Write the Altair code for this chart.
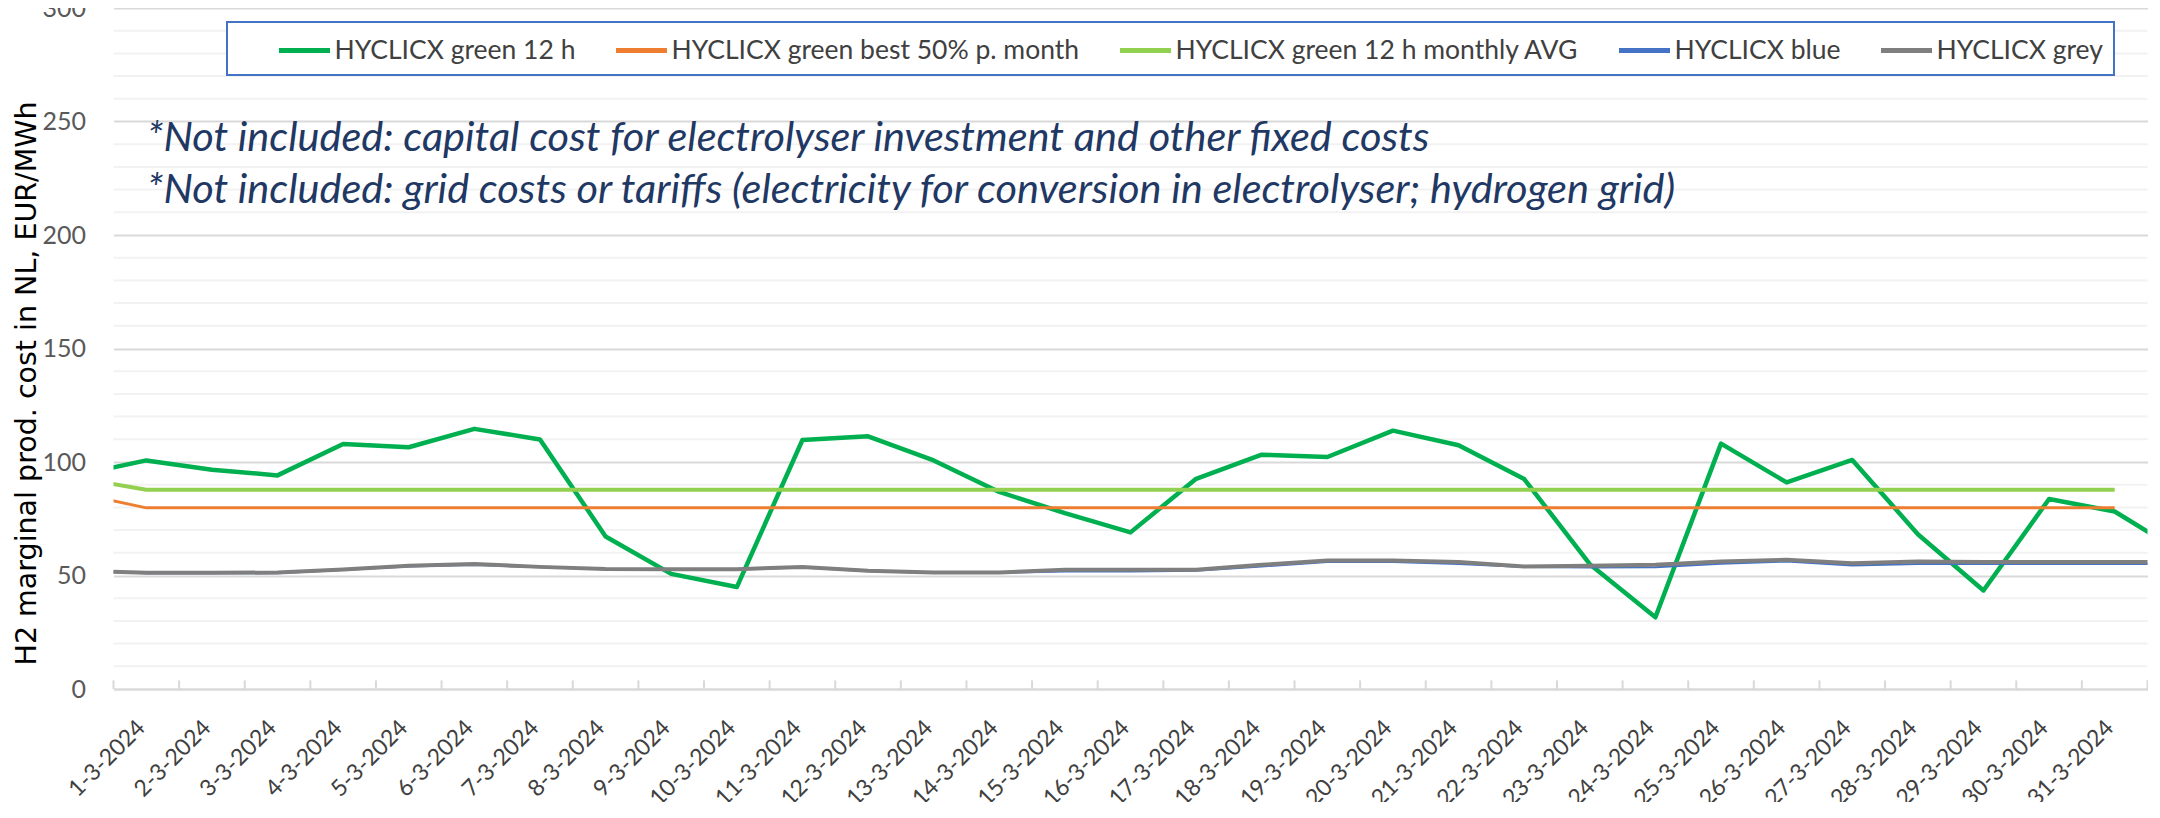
import json
import altair as alt
import pandas as pd

# ---------------- data ----------------
# day index: 0 = 29-2-2024 (just before the axis), 1..31 = March, 32 = 1-4-2024
days = list(range(0, 33))
day_labels = [f"{d}-3-2024" for d in range(1, 32)]

series_names = [
    "HYCLICX green 12 h",
    "HYCLICX green best 50% p. month",
    "HYCLICX green 12 h monthly AVG",
    "HYCLICX blue",
    "HYCLICX grey",
]
series_colors = ["#00B050", "#ED7D31", "#92D050", "#4472C4", "#7F7F7F"]

green_12h = [94.5, 100.7, 96.6, 94.1, 107.9, 106.5, 114.6, 109.9, 67.2, 50.7, 44.9,
             109.7, 111.3, 100.7, 86.8, 77.5, 69.0, 92.6, 103.2, 102.2, 113.8,
             107.4, 92.5, 55.0, 31.6, 108.1, 91.0, 100.9, 68.2, 43.4, 83.7, 78.2, 60.6]
green_best50 = [86.0] + [79.8] * 31 + [None]
green_avg = [92.8] + [87.8] * 31 + [None]
blue = [51.8, 51.0, 51.0, 51.0, 52.4, 54.0, 54.6, 53.6, 52.8, 52.7, 52.7, 53.5, 51.9,
        51.1, 51.1, 51.8, 51.8, 52.1, 54.0, 55.9, 55.9, 55.1, 53.7, 53.5, 53.6, 55.2,
        56.2, 54.4, 55.1, 55.1, 55.1, 55.1, 55.1]
grey = [52.0, 51.2, 51.2, 51.3, 52.6, 54.3, 55.1, 53.8, 52.9, 52.8, 52.8, 53.7, 52.1,
        51.3, 51.3, 52.5, 52.5, 52.5, 54.7, 56.6, 56.6, 56.0, 54.0, 54.3, 54.7, 56.2,
        56.9, 55.4, 56.2, 55.9, 55.9, 55.9, 55.9]

notes = [
    "*Not included: capital cost for electrolyser investment and other fixed costs",
    "*Not included: grid costs or tariffs (electricity for conversion in electrolyser; hydrogen grid)",
]
y_title = "H2 marginal  prod. cost  in NL, EUR/MWh"
y_major = [0, 50, 100, 150, 200, 250, 300]
y_minor = [v for v in range(10, 300, 10) if v % 50 != 0]
tick_bounds = [d + 0.5 for d in range(0, 32)]

all_values = [green_12h, green_best50, green_avg, blue, grey]
rows = []
for name, vals in zip(series_names, all_values):
    for d, v in zip(days, vals):
        if v is not None:
            rows.append({"series": name, "day": d, "value": v})
df = pd.DataFrame(rows)

W, H = 2034, 681
FONT = "Lato"

x_scale = alt.Scale(domain=[0.5, 31.5], nice=False, zero=False)
y_scale = alt.Scale(domain=[0, 300], nice=False)

x_enc = alt.X(
    "day:Q",
    scale=x_scale,
    axis=alt.Axis(
        values=list(range(1, 32)),
        labelExpr=f"{json.dumps(day_labels)}[datum.value - 1]",
        labelAngle=315,
        labelFont=FONT,
        labelFontSize=23,
        labelColor="#404040",
        labelPadding=27,
        labelOffset=-13,
        labelFlush=False,
        labelOverlap=False,
        ticks=False,
        grid=False,
        domainColor="#D9D9D9",
        domainWidth=2,
        title=None,
    ),
)
y_enc = alt.Y(
    "value:Q",
    scale=y_scale,
    axis=alt.Axis(
        values=y_major,
        labelOverlap=False,
        labelFlush=False,
        gridColor="#D9D9D9",
        gridWidth=2,
        domain=False,
        ticks=False,
        labelFont=FONT,
        labelFontSize=25,
        labelColor="#595959",
        labelPadding=28,
        title=y_title,
        titleFont="DejaVu Sans",
        titleFontSize=28.5,
        titleFontWeight="normal",
        titleColor="#000000",
        titleAngle=270,
        titleAlign="center",
        titleBaseline="middle",
        titleX=-87.5,
        titleY=375,
    ),
)

color_scale = alt.Scale(domain=series_names, range=series_colors)

minor_grid = alt.Chart(pd.DataFrame({"g": y_minor})).mark_rule(
    color="#F2F2F2", strokeWidth=2
).encode(y=alt.Y("g:Q", scale=y_scale))

ticks = alt.Chart(pd.DataFrame({"b": tick_bounds})).mark_rule(
    color="#D9D9D9", strokeWidth=2
).encode(
    x=alt.X("b:Q", scale=x_scale),
    y=alt.Y(datum=0),
    y2=alt.Y2(datum=3.8),
)

last_name = series_names[-1]
pad_str = "\u00a0" * 6
widths = [4.5, 3, 4, 2, 4]
line_layers = []
for i, (name, w) in enumerate(zip(series_names, widths)):
    leg = None
    if i == 0:
        leg = alt.Legend(
            title=" ",
            titleOrient="left",
            titleFontSize=1,
            titlePadding=49,
            orient="none",
            legendX=113.5,
            legendY=14,
            direction="horizontal",
            columns=5,
            symbolType="M-1.7,0H1.7",
            symbolSize=900,
            symbolStrokeWidth=5,
            labelFont=FONT,
            labelFontSize=26.5,
            labelColor="#404040",
            labelOffset=12.5,
            labelLimit=0,
            labelExpr=f"datum.label + (indexof(datum.label, 'grey') >= 0 ? '{pad_str}' : '')",
            columnPadding=30,
            padding=11,
            strokeColor="#4472C4",
            fillColor="#FFFFFF",
        )
    layer = alt.Chart(df).transform_filter(
        alt.datum.series == name
    ).mark_line(strokeWidth=w, clip=True, strokeJoin="round").encode(
        x=x_enc,
        y=y_enc,
        color=alt.Color("series:N", scale=color_scale, legend=leg, sort=series_names),
    )
    line_layers.append(layer)

note_layers = []
for n, ypix in zip(notes, [131, 183]):
    note_layers.append(
        alt.Chart(pd.DataFrame({"t": [n]})).mark_text(
            align="left", baseline="middle", font=FONT, fontStyle="italic",
            fontSize=41.5, color="#1F3864",
        ).encode(text="t:N", x=alt.value(33.5), y=alt.value(ypix))
    )

chart = alt.layer(minor_grid, ticks, *line_layers, *note_layers).properties(
    width=W,
    height=H,
    padding={"left": 105.5, "top": 0, "right": 0, "bottom": 113},
    autosize=alt.AutoSizeParams(type="none"),
).configure_view(stroke=None).configure_legend(strokeWidth=2)

chart.save("out.html", embed_options={"renderer": "svg", "actions": False})
